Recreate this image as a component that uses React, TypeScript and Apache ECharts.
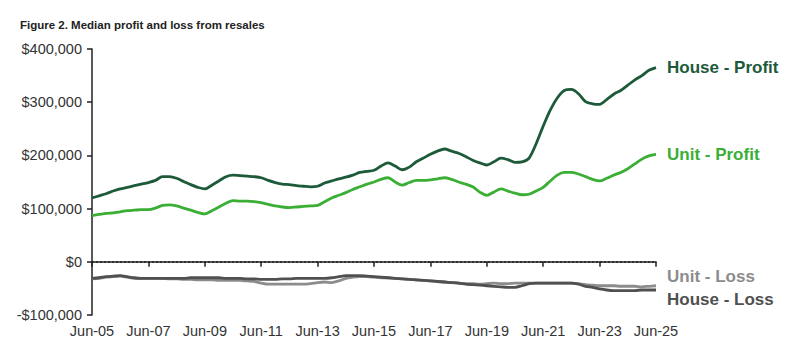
import React, { useEffect, useRef } from "react";
import * as echarts from "echarts";

const title = "Figure 2. Median profit and loss from resales";

// Quarter labels Jun-05 ... Jun-25
const quarterMonths = ["Jun", "Sep", "Dec", "Mar"];
const categories: string[] = [];
for (let i = 0; i <= 80; i++) {
  const m = quarterMonths[i % 4];
  const yr = 5 + Math.floor((i + 2) / 4);
  categories.push(`${m}-${String(yr).padStart(2, "0")}`);
}

const houseProfit = [
  120, 124, 128, 133, 137, 140, 143, 146, 149, 153,
  160, 160, 157, 151, 145, 140, 137, 144, 152, 160,
  163, 162, 161, 160, 158, 153, 149, 146, 145, 143,
  142, 141, 142, 148, 152, 156, 159, 163, 168, 170,
  172, 180, 186, 180, 173, 178, 188, 195, 202, 208,
  212, 208, 204, 198, 191, 186, 182, 188, 195, 192,
  187, 188, 195, 222, 255, 285, 308, 322, 324, 316,
  301, 297, 296, 305, 315, 322, 332, 342, 350, 360,
  365,
].map((v) => v * 1000);

const unitProfit = [
  87, 89, 91, 92, 94, 96, 97, 98, 98, 101,
  106, 107, 105, 101, 97, 93, 90, 96, 103, 110,
  115, 114, 114, 113, 111, 108, 105, 103, 102, 103,
  104, 105, 106, 113, 120, 125, 130, 136, 141, 146,
  150, 155, 158, 150, 144, 149, 153, 153, 154, 156,
  158, 155, 150, 146, 141, 131, 125, 131, 137, 133,
  129, 126, 127, 133, 140, 152, 163, 168, 168, 165,
  160, 155, 152, 157, 163, 168, 175, 184, 193, 199,
  202,
].map((v) => v * 1000);

const unitLoss = [
  -32, -31, -29, -28, -27, -29, -31, -31, -31, -31,
  -31, -32, -32, -33, -33, -34, -34, -34, -35, -35,
  -35, -35, -36, -37, -40, -42, -42, -42, -42, -42,
  -42, -41, -39, -38, -39, -36, -31, -29, -28, -28,
  -29, -30, -30, -31, -32, -33, -34, -35, -36, -37,
  -38, -39, -40, -41, -41, -42, -41, -40, -41, -41,
  -40, -40, -40, -40, -40, -40, -40, -40, -40, -41,
  -43, -44, -45, -45, -45, -46, -46, -46, -47, -46,
  -45,
].map((v) => v * 1000);

const houseLoss = [
  -31, -30, -28, -27, -26, -28, -30, -31, -31, -31,
  -31, -31, -31, -31, -30, -30, -30, -30, -30, -31,
  -31, -31, -32, -32, -33, -33, -33, -32, -32, -31,
  -31, -31, -31, -31, -30, -28, -26, -26, -26, -27,
  -28, -29, -30, -31, -32, -33, -34, -35, -36, -37,
  -38, -39, -40, -42, -43, -44, -45, -46, -47, -48,
  -48, -45, -41, -40, -40, -40, -40, -40, -40, -42,
  -46, -48, -51, -53, -54, -54, -54, -54, -53, -53,
  -53,
].map((v) => v * 1000);

const seriesNames = ["House - Profit", "Unit - Profit", "Unit - Loss", "House - Loss"];
const seriesColors = ["#1d5a3a", "#3aae35", "#8c8c8c", "#505050"];
const labelOffsets = [
  [3, 0],
  [3, 0],
  [3, -9],
  [3, 10],
];

const FONT = "'Liberation Sans', Arial, sans-serif";

export default function App() {
  const ref = useRef<HTMLDivElement>(null);
  useEffect(() => {
    if (!ref.current) return;
    const chart = echarts.init(ref.current, undefined, { renderer: "svg" });
    const datasets = [houseProfit, unitProfit, unitLoss, houseLoss];
    const fmt = (v: number) =>
      (v < 0 ? "-$" : "$") + Math.abs(v).toLocaleString("en-US");
    chart.setOption({
      animation: false,
      backgroundColor: "#ffffff",
      title: {
        text: title,
        left: 7,
        top: 6,
        textStyle: {
          fontFamily: FONT,
          fontSize: 11.5,
          fontWeight: "bold",
          color: "#222",
        },
      },
      grid: { left: 84, right: 136, top: 41, bottom: 37, containLabel: false },
      xAxis: {
        type: "category",
        data: categories,
        boundaryGap: false,
        axisLine: { lineStyle: { color: "#222", width: 1.5 } },
        axisTick: {
          show: true,
          interval: 7,
          length: 5,
          lineStyle: { color: "#222", width: 1.5 },
        },
        axisLabel: {
          interval: 7,
          margin: 8,
          color: "#333",
          fontFamily: FONT,
          fontSize: 14.5,
        },
        splitLine: { show: false },
      },
      yAxis: {
        type: "value",
        min: -100000,
        max: 400000,
        interval: 100000,
        axisLine: { show: true, lineStyle: { color: "#222", width: 1.5 } },
        axisTick: { show: true, length: 5, lineStyle: { color: "#222", width: 1.5 } },
        axisLabel: {
          formatter: fmt,
          margin: 10,
          color: "#333",
          fontFamily: FONT,
          fontSize: 14.5,
        },
        splitLine: { show: false },
      },
      series: datasets.map((d, idx) => ({
        name: seriesNames[idx],
        type: "line",
        data: d,
        smooth: 0.3,
        symbol: "none",
        z: idx === 0 || idx === 1 ? 3 : 2,
        lineStyle: { color: seriesColors[idx], width: 2.8 },
        itemStyle: { color: seriesColors[idx] },
        endLabel: {
          show: true,
          formatter: seriesNames[idx],
          offset: labelOffsets[idx],
          color: seriesColors[idx],
          fontFamily: FONT,
          fontSize: 17,
          fontWeight: "bold",
        },
        markLine:
          idx === 0
            ? {
                silent: true,
                symbol: "none",
                label: { show: false },
                lineStyle: { color: "#222", type: [2, 2], width: 1.5 },
                data: [{ yAxis: 0 }],
              }
            : undefined,
      })),
    });
    return () => chart.dispose();
  }, []);
  return <div ref={ref} style={{ width: 784, height: 344 }} />;
}
